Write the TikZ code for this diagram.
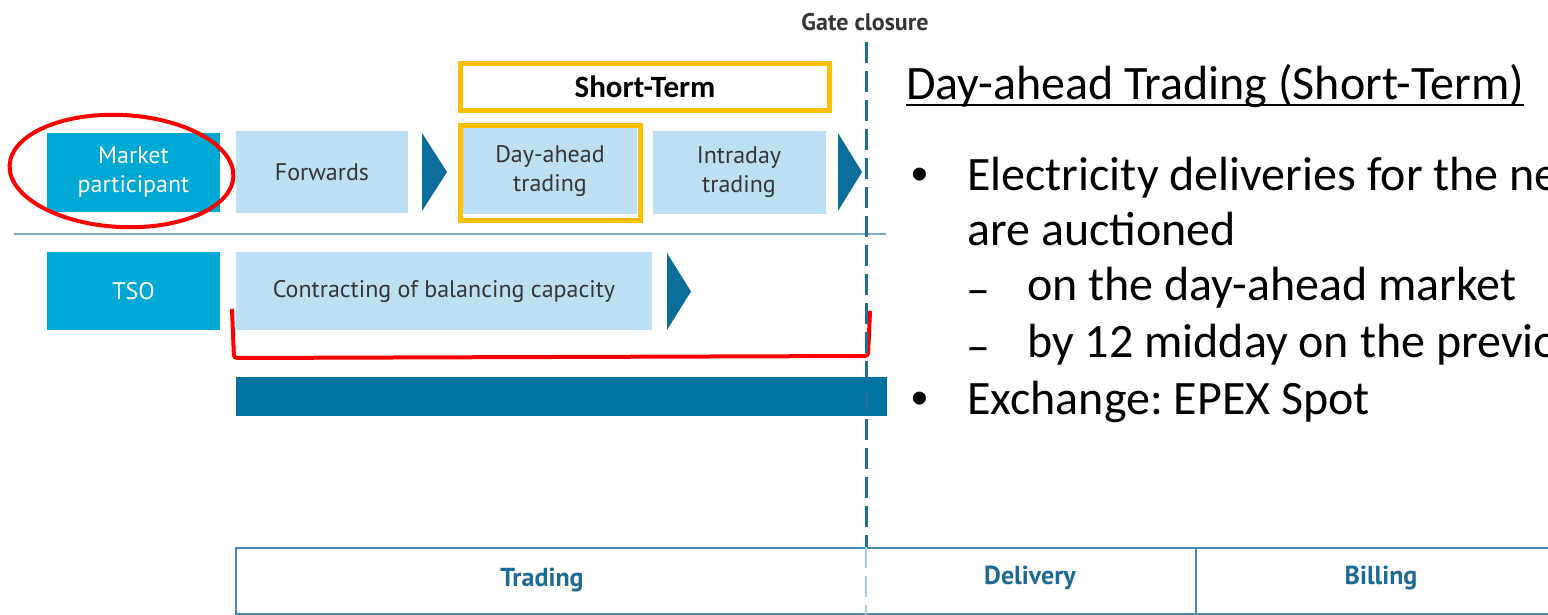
\documentclass[tikz,border=0pt]{standalone}
\usepackage{fontspec}
\setmainfont{Carlito}
\newfontfamily\diagfont{PT Sans}
\newfontfamily\bulletfont{Liberation Sans}
\usetikzlibrary{calc}
\definecolor{mpcyan}{HTML}{00A8D6}
\definecolor{phaselight}{HTML}{BDE1F3}
\definecolor{tridark}{HTML}{0B6E99}
\definecolor{bardark}{HTML}{00729E}
\definecolor{sepline}{HTML}{7FAAC2}
\definecolor{hlorange}{HTML}{FFC000}
\definecolor{boxborder}{HTML}{3F8DB3}
\definecolor{labelblue}{HTML}{1D6A93}
\definecolor{textgray}{HTML}{353535}
\definecolor{gatedash}{HTML}{1F6E96}
\definecolor{gatelight}{HTML}{A9CCDD}
\frenchspacing
\begin{document}
\begin{tikzpicture}[x=1pt,y=-1pt,
  actor/.style={fill=mpcyan,text=white,minimum width=173,minimum height=79,inner sep=0,
    align=center,font=\diagfont\fontsize{24}{29}\selectfont},
  phase/.style={fill=phaselight,text=textgray,minimum height=82,inner sep=0,
    align=center,font=\diagfont\fontsize{24}{29}\selectfont},
  hlbox/.style={draw=hlorange,line width=5},
  redmark/.style={draw=red,line width=4},
  stagelbl/.style={text=labelblue,font=\diagfont\bfseries\fontsize{26}{30}\selectfont},
  rtext/.style={anchor=base west,inner sep=0,font=\fontsize{48}{57}\selectfont},
  bul/.style={anchor=base west,inner sep=0,font=\bulletfont\fontsize{48}{57}\selectfont},
]
\useasboundingbox (0,0) rectangle (1548,615);
\clip (0,0) rectangle (1548,615);

% separator line
\draw[sepline,line width=2.5] (14,234) -- (886,234);

% row 1
\node[actor] (mp) at (133.5,172.5) {Market\\participant};
\node[phase,minimum width=172] (fw) at (322,172) {Forwards};
\fill[tridark] (422,133) -- (447,172) -- (422,211) -- cycle;
\node[phase,minimum width=174,minimum height=86] (da) at (550,171) {Day-ahead\\trading};
\node[hlbox,minimum width=180,minimum height=94,inner sep=0] (daframe) at (550,173) {};
\node[phase,minimum width=173] (id) at (739,172.5) {Intraday\\trading};
\fill[tridark] (838,133) -- (862,172) -- (838,211) -- cycle;

% short-term box
\node[hlbox,fill=white,minimum width=369,minimum height=47,inner sep=0,
  font=\bfseries\fontsize{31}{36}\selectfont] (st) at (645,87) {Short-Term};

% row 2
\node[actor,minimum height=78] (tso) at (133.5,291) {TSO};
\node[phase,minimum width=416,minimum height=78] (cb) at (444,291) {Contracting of balancing capacity};
\fill[tridark] (667,253) -- (691,291.5) -- (667,330) -- cycle;

% red markings
\draw[redmark,rotate around={-3:(121.5,171)}] (121.5,171) ellipse [x radius=112,y radius=56];
\draw[redmark,rounded corners=3] (232,309) -- (234,358) -- (868,356) -- (870,311);

% dark bar
\fill[bardark] (236,377) rectangle (887,416);

% bottom stages
\draw[boxborder,line width=2.5] (1552,548) -- (236,548) -- (236,616);
\draw[boxborder,line width=2.5] (236,614) -- (1552,614);
\draw[boxborder,line width=2] (1196,548) -- (1196,615);
\node[stagelbl] (trd) at (542,580) {Trading};
\node[stagelbl] (dlv) at (1030,578) {Delivery};
\node[stagelbl] (bil) at (1381,578) {Billing};

% gate closure
\node[text=textgray,font=\diagfont\bfseries\fontsize{24}{28}\selectfont] (gc) at (865,22) {Gate closure};
\coordinate (gtop) at (866,42);
\coordinate (gmid) at (866,547);
\coordinate (gbot) at (866,615);
\draw[gatedash,line width=3,dash pattern=on 21 off 8] (gtop) -- (gmid);
\draw[gatelight,line width=2,dash pattern=on 21 off 8] (gmid) -- (gbot);

% right text
\node[rtext] (title) at (906,100) {Day-ahead Trading (Short-Term)};
\draw[line width=2.5] ([yshift=-5pt]title.base west) -- ([yshift=-5pt]title.base east);
\node[bul] (b1) at (911,190) {•};
\node[rtext] (l1) at (967,190) {Electricity deliveries for the next day};
\node[rtext] (l2) at (967,245) {are auctioned};
\node[rtext] (d1) at (966,305) {–};
\node[rtext] (l3) at (1027,300) {on the day-ahead market};
\node[rtext] (d2) at (966,362) {–};
\node[rtext] (l4) at (1027,357) {by 12 midday on the previous day};
\node[bul] (b2) at (911,414) {•};
\node[rtext] (l5) at (967,414) {Exchange: EPEX Spot};
\end{tikzpicture}
\end{document}
